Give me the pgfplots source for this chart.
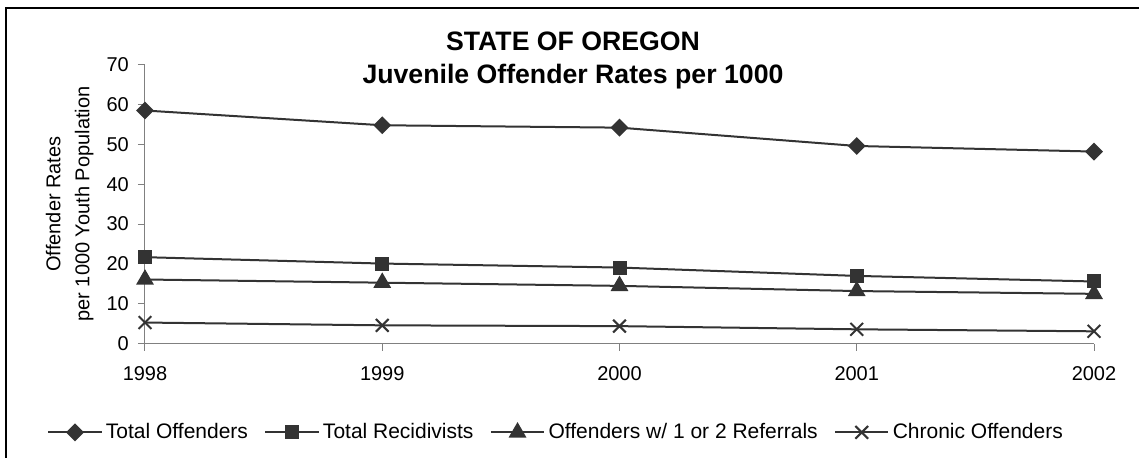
\documentclass[border=0pt]{standalone}
\usepackage{pgfplots}
\pgfplotsset{compat=1.18}
\usepackage{fontspec}
\setmainfont{Liberation Sans}
\definecolor{ln}{HTML}{333333}
\definecolor{ax}{HTML}{808080}
\begin{document}
\begin{tikzpicture}
\useasboundingbox (0,0) rectangle (683.4pt,274.2pt);
\draw[black, line width=0.9pt] (3.6pt,-30pt) rectangle (720pt,269.4pt);
\node[anchor=base, font=\fontsize{16}{19}\selectfont\bfseries] at (343.8pt,244.0pt) {STATE OF OREGON};
\node[anchor=base, font=\fontsize{16}{19}\selectfont\bfseries] at (343.8pt,224.2pt) {Juvenile Offender Rates per 1000};
\node[rotate=90, font=\fontsize{12}{14}\selectfont] at (32pt,151.8pt) {Offender Rates};
\node[rotate=90, font=\fontsize{12}{14}\selectfont] at (50.5pt,151.8pt) {per 1000 Youth Population};
\begin{axis}[
  at={(87pt,68.0pt)}, anchor=south west,
  scale only axis, width=569.4pt, height=167.4pt,
  xmin=0, xmax=4, ymin=0, ymax=70,
  xtick={0,1,2,3,4}, xticklabels={1998,1999,2000,2001,2002},
  ytick={0,10,...,70},
  axis x line=bottom, axis y line=left,
  axis line style={ax, line width=0.6pt, -},
  tick style={ax, line width=0.6pt},
  tick align=outside, major tick length=4.2pt,
  xtick pos=bottom, ytick pos=left,
  ticklabel style={font=\fontsize{12}{14}\selectfont},
  /pgf/number format/assume math mode=true,
  yticklabel style={xshift=-2pt},
  xticklabel style={yshift=-6pt},
  clip=false,
  legend columns=4,
  legend style={at={(-0.1033,-0.318)}, anchor=west, draw=none, fill=none, inner sep=0pt,
    font=\fontsize{12.6}{15}\selectfont, /tikz/every even column/.append style={column sep=7.8pt}},
  legend image code/.code={\draw[mark repeat=2,mark phase=2,#1] plot coordinates {(0pt,0pt) (16pt,0pt) (32pt,0pt)};},
  every axis plot/.append style={ln, line width=1.2pt},
]
\addplot[mark=square*, mark size=3.2pt, mark options={rotate=45, fill=ln, solid}] coordinates {(0,58.5) (1,54.8) (2,54.2) (3,49.6) (4,48.2)};
\addlegendentry{Total Offenders}
\addplot[mark=square*, mark size=3.6pt, mark options={fill=ln}] coordinates {(0,21.7) (1,20.1) (2,19.1) (3,17.0) (4,15.6)};
\addlegendentry{Total Recidivists}
\addplot[mark=triangle*, mark size=5pt, mark options={fill=ln}] coordinates {(0,16.1) (1,15.3) (2,14.5) (3,13.2) (4,12.5)};
\addlegendentry{Offenders w/ 1 or 2 Referrals}
\addplot[mark=x, mark size=5.4pt, mark options={line width=1.2pt}] coordinates {(0,5.3) (1,4.6) (2,4.4) (3,3.6) (4,3.1)};
\addlegendentry{Chronic Offenders}
\end{axis}
\end{tikzpicture}
\end{document}
